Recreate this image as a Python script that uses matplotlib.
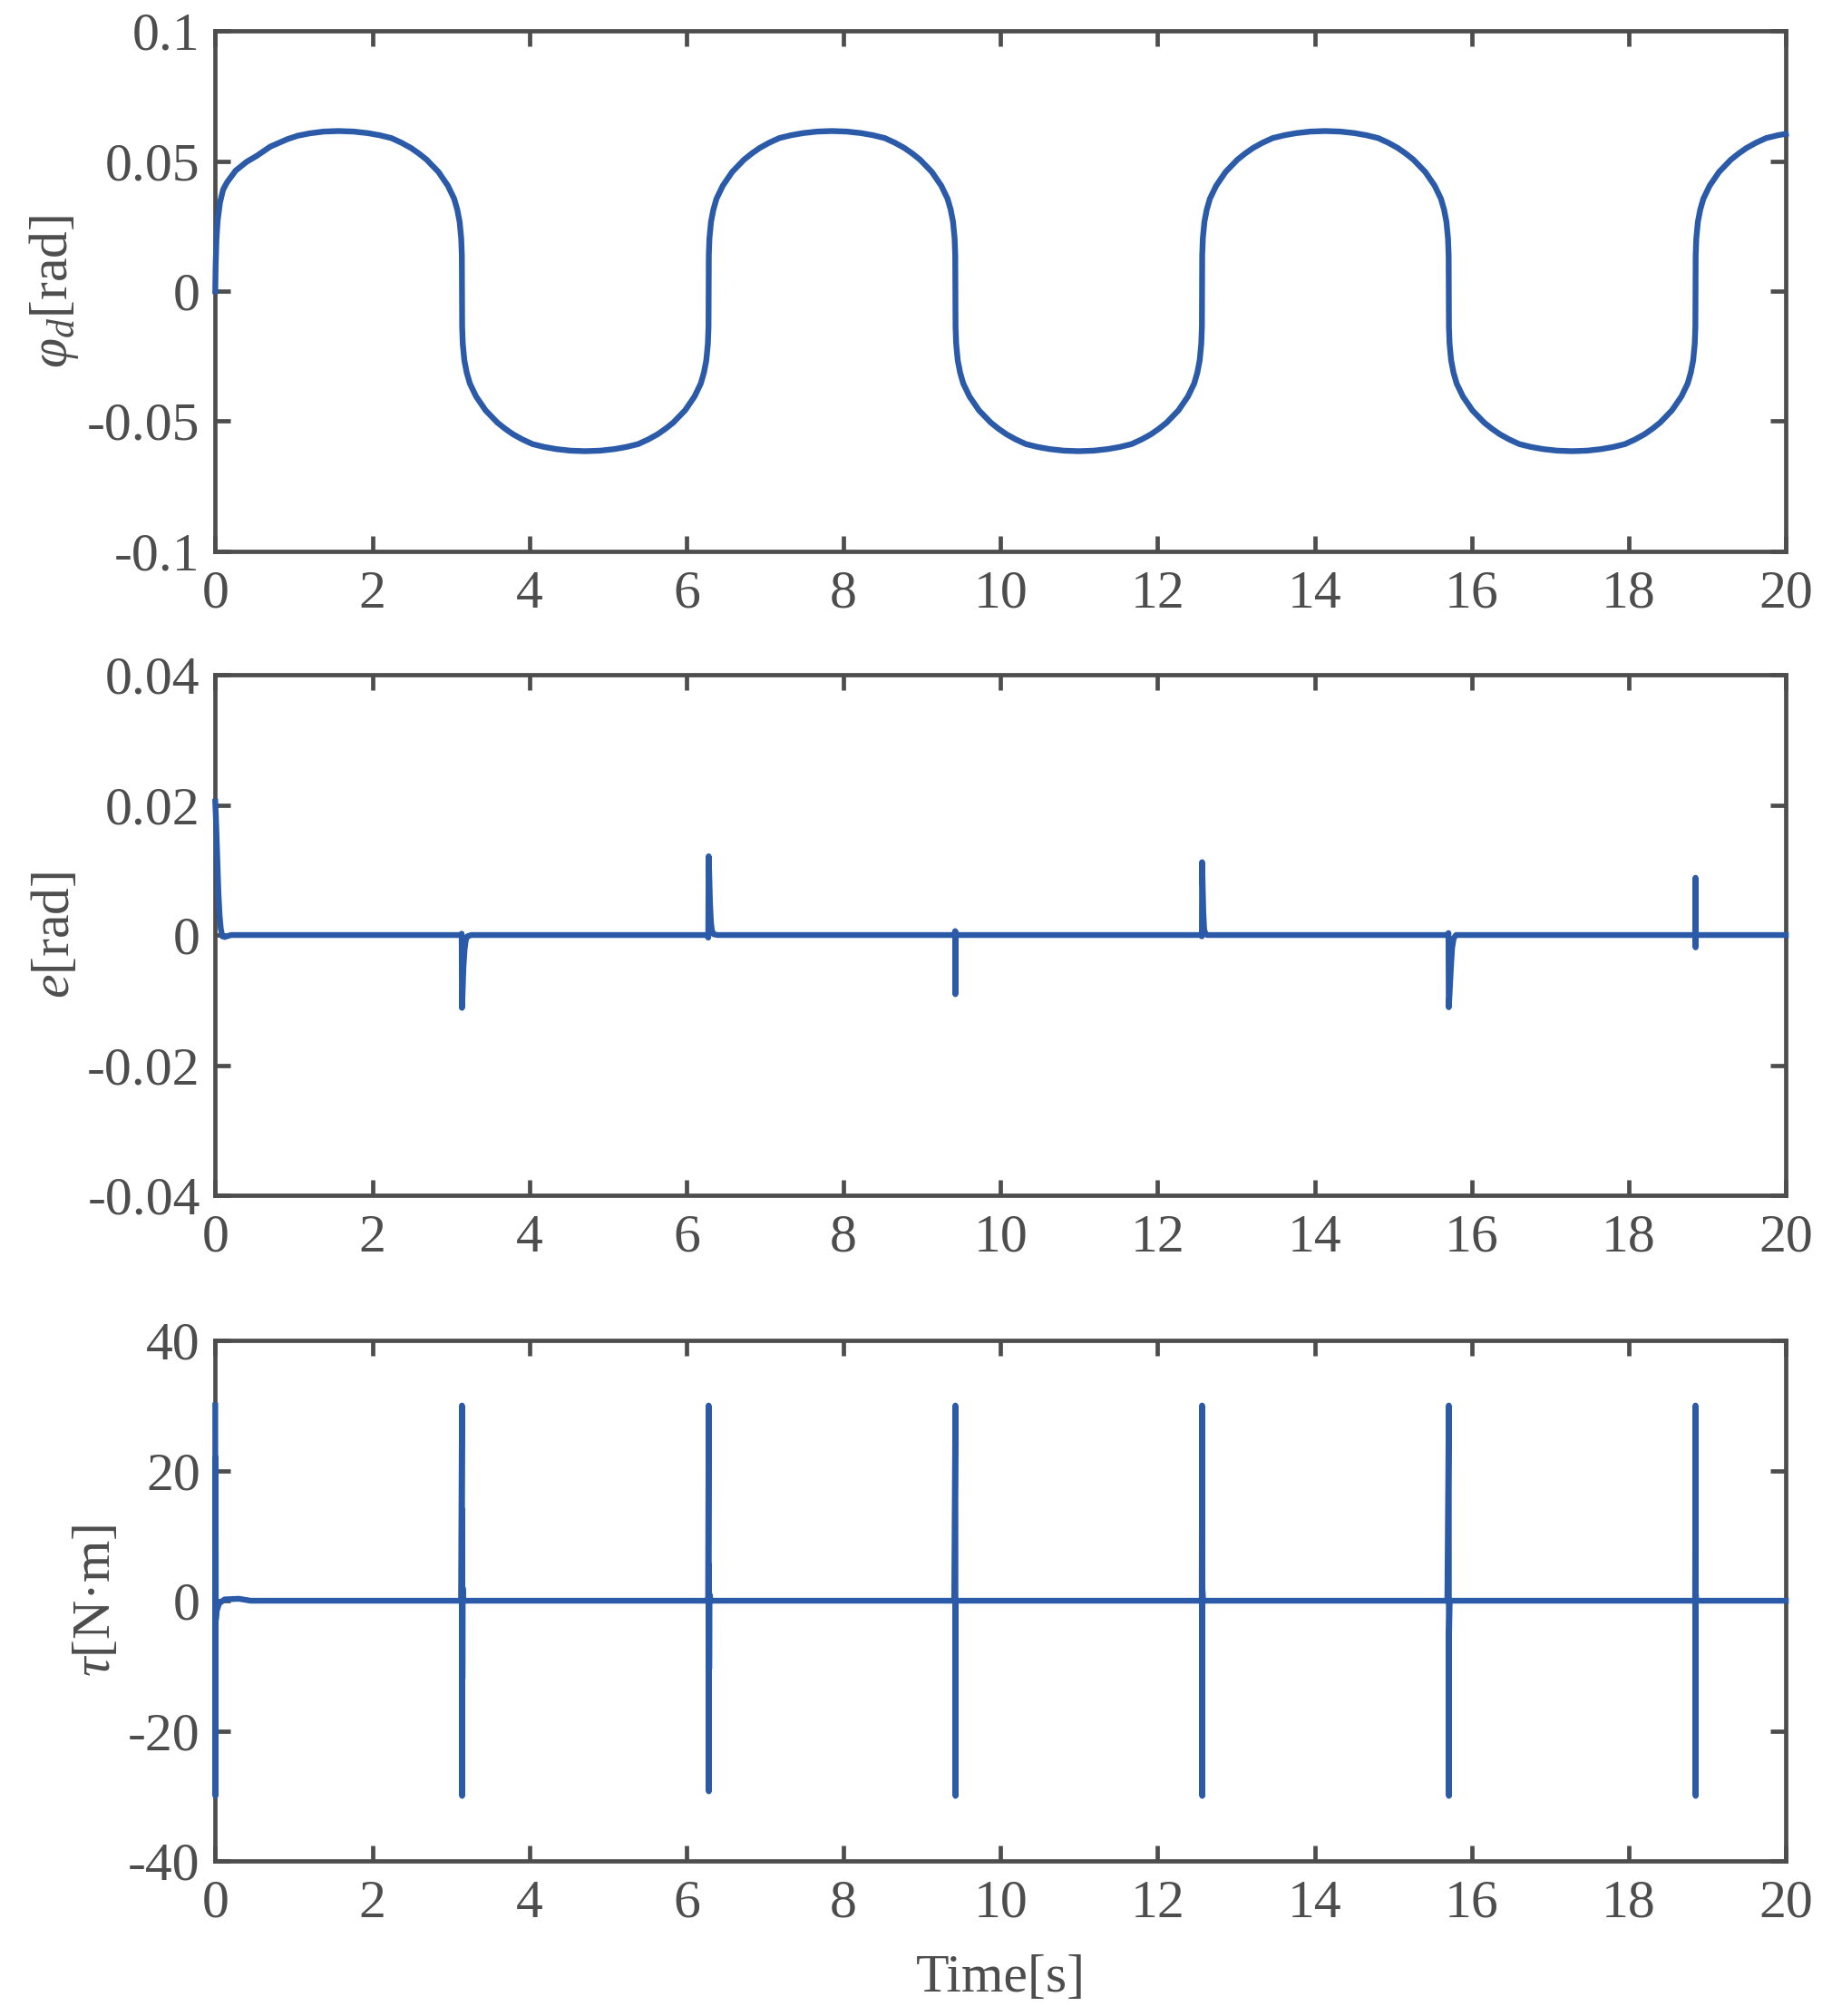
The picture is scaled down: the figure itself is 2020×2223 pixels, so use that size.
import matplotlib
matplotlib.use("Agg")
import matplotlib.pyplot as plt

# --- data ---

# desired angle phi_d [rad]
phi_t = [0, 0.005, 0.015, 0.03, 0.06, 0.1, 0.15, 0.26, 0.4, 0.53, 0.7, 0.92, 1.05, 1.2, 1.38, 1.571,
         # down through pi
         1.762, 1.942, 2.092, 2.242, 2.372, 2.492, 2.592, 2.692, 2.842, 2.962, 3.042, 3.082, 3.112, 3.132, 3.140,
         3.142,
         3.144, 3.152, 3.172, 3.202, 3.242, 3.322, 3.442, 3.592, 3.692, 3.792, 3.912, 4.042, 4.192, 4.342, 4.522,
         4.712,
         # up through 2pi
         4.903, 5.083, 5.233, 5.383, 5.513, 5.633, 5.733, 5.833, 5.983, 6.103, 6.183, 6.223, 6.253, 6.273, 6.281,
         6.283,
         6.285, 6.293, 6.313, 6.343, 6.383, 6.463, 6.583, 6.733, 6.833, 6.933, 7.053, 7.183, 7.333, 7.483, 7.663,
         7.854,
         # down through 3pi
         8.045, 8.225, 8.375, 8.525, 8.655, 8.775, 8.875, 8.975, 9.125, 9.245, 9.325, 9.365, 9.395, 9.415, 9.423,
         9.425,
         9.427, 9.435, 9.455, 9.485, 9.525, 9.605, 9.725, 9.875, 9.975, 10.075, 10.195, 10.325, 10.475, 10.625, 10.805,
         10.996,
         # up through 4pi
         11.186, 11.366, 11.516, 11.666, 11.796, 11.916, 12.016, 12.116, 12.266, 12.386, 12.466, 12.506, 12.536, 12.556, 12.564,
         12.566,
         12.568, 12.576, 12.596, 12.626, 12.666, 12.746, 12.866, 13.016, 13.116, 13.216, 13.336, 13.466, 13.616, 13.766, 13.946,
         14.137,
         # down through 5pi
         14.328, 14.508, 14.658, 14.808, 14.938, 15.058, 15.158, 15.258, 15.408, 15.528, 15.608, 15.648, 15.678, 15.698, 15.706,
         15.708,
         15.710, 15.718, 15.738, 15.768, 15.808, 15.888, 16.008, 16.158, 16.258, 16.358, 16.478, 16.608, 16.758, 16.908, 17.088,
         17.279,
         # up through 6pi to the end
         17.470, 17.650, 17.800, 17.950, 18.080, 18.200, 18.300, 18.400, 18.550, 18.670, 18.750, 18.790, 18.820, 18.840, 18.848,
         18.850,
         18.852, 18.860, 18.880, 18.910, 18.950, 19.030, 19.150, 19.300, 19.400, 19.500, 19.620, 19.750, 19.900, 20.0]
phi_v = [0, 0.010, 0.020, 0.027, 0.034, 0.039, 0.0418, 0.0463, 0.0497, 0.0520, 0.0555, 0.0584, 0.0597, 0.0606, 0.0613, 0.0615,
         0.0613, 0.0607, 0.0599, 0.0588, 0.0570, 0.0550, 0.0529, 0.0505, 0.0458, 0.0405, 0.0355, 0.0313, 0.0266, 0.0203, 0.0138,
         0,
         -0.0138, -0.0203, -0.0266, -0.0313, -0.0355, -0.0405, -0.0458, -0.0505, -0.0529, -0.0550, -0.0570, -0.0588, -0.0599, -0.0607, -0.0613,
         -0.0615,
         -0.0613, -0.0607, -0.0599, -0.0588, -0.0570, -0.0550, -0.0529, -0.0505, -0.0458, -0.0405, -0.0355, -0.0313, -0.0266, -0.0203, -0.0138,
         0,
         0.0138, 0.0203, 0.0266, 0.0313, 0.0355, 0.0405, 0.0458, 0.0505, 0.0529, 0.0550, 0.0570, 0.0588, 0.0599, 0.0607, 0.0613,
         0.0615,
         0.0613, 0.0607, 0.0599, 0.0588, 0.0570, 0.0550, 0.0529, 0.0505, 0.0458, 0.0405, 0.0355, 0.0313, 0.0266, 0.0203, 0.0138,
         0,
         -0.0138, -0.0203, -0.0266, -0.0313, -0.0355, -0.0405, -0.0458, -0.0505, -0.0529, -0.0550, -0.0570, -0.0588, -0.0599, -0.0607, -0.0613,
         -0.0615,
         -0.0613, -0.0607, -0.0599, -0.0588, -0.0570, -0.0550, -0.0529, -0.0505, -0.0458, -0.0405, -0.0355, -0.0313, -0.0266, -0.0203, -0.0138,
         0,
         0.0138, 0.0203, 0.0266, 0.0313, 0.0355, 0.0405, 0.0458, 0.0505, 0.0529, 0.0550, 0.0570, 0.0588, 0.0599, 0.0607, 0.0613,
         0.0615,
         0.0613, 0.0607, 0.0599, 0.0588, 0.0570, 0.0550, 0.0529, 0.0505, 0.0458, 0.0405, 0.0355, 0.0313, 0.0266, 0.0203, 0.0138,
         0,
         -0.0138, -0.0203, -0.0266, -0.0313, -0.0355, -0.0405, -0.0458, -0.0505, -0.0529, -0.0550, -0.0570, -0.0588, -0.0599, -0.0607, -0.0613,
         -0.0615,
         -0.0613, -0.0607, -0.0599, -0.0588, -0.0570, -0.0550, -0.0529, -0.0505, -0.0458, -0.0405, -0.0355, -0.0313, -0.0266, -0.0203, -0.0138,
         0,
         0.0138, 0.0203, 0.0266, 0.0313, 0.0355, 0.0405, 0.0458, 0.0505, 0.0529, 0.0550, 0.0570, 0.0588, 0.0599, 0.0604]

# tracking error e [rad]
err_t = [0, 0.01, 0.025, 0.04, 0.055, 0.07, 0.09, 0.12, 0.2,
         3.120, 3.138, 3.1416, 3.149, 3.160, 3.175, 3.190, 3.210, 3.26,
         6.26, 6.278, 6.2832, 6.290, 6.300, 6.312, 6.325, 6.35, 6.40,
         9.41, 9.422, 9.4248, 9.427, 9.430, 9.44, 9.46,
         12.55, 12.564, 12.5664, 12.573, 12.582, 12.592, 12.605, 12.63,
         15.69, 15.704, 15.708, 15.716, 15.735, 15.750, 15.770, 15.80,
         18.84, 18.848, 18.8496, 18.851, 18.853, 18.86, 20.0]
err_v = [0.0205, 0.0175, 0.012, 0.0065, 0.003, 0.001, -0.0002, -0.0003, 0,
         0, 0.0002, -0.0112, -0.0090, -0.0050, -0.0022, -0.0008, -0.0002, 0,
         0, -0.0004, 0.0121, 0.0095, 0.0050, 0.0020, 0.0006, 0.0001, 0,
         0, 0.0006, -0.0091, -0.0030, 0.0004, 0.0001, 0,
         0, -0.0002, 0.0112, 0.0080, 0.0035, 0.0010, 0.0002, 0,
         0, 0.0003, -0.0111, -0.0095, -0.0050, -0.0020, -0.0005, 0,
         0, 0.0002, 0.0088, -0.0019, 0.0004, 0, 0]

# control torque tau [N.m]
tau_t = [0, 0.002, 0.004, 0.007, 0.02, 0.05, 0.12, 0.3, 0.45,
         3.130, 3.1416, 3.1436, 3.1456, 3.148, 3.151, 3.16,
         6.260, 6.276, 6.2832, 6.2852, 6.2872, 6.290, 6.294, 6.31,
         9.410, 9.4248, 9.4268, 9.4288, 9.44,
         12.550, 12.562, 12.5664, 12.5684, 12.5704, 12.58,
         15.690, 15.708, 15.710, 15.712, 15.72,
         18.835, 18.845, 18.8496, 18.8516, 18.8536, 18.86, 20.0]
tau_v = [30, -30, 22, -3, -1.5, -0.4, 0.2, 0.3, 0,
         0, 30, -30, 14, -12, 2, 0,
         0, 0.3, 30, -29.3, 5.5, -10.5, 1, 0,
         0, 30, -30, 0, 0,
         0, 0.2, 30, -30, 2, 0,
         0, 30, -30, -5, 0,
         0, 0.2, 30, -30, 1, 0, 0]

x_ticks = [0, 2, 4, 6, 8, 10, 12, 14, 16, 18, 20]
phi_ticks = [-0.1, -0.05, 0, 0.05, 0.1]
phi_labels = ["-0.1", "-0.05", "0", "0.05", "0.1"]
err_ticks = [-0.04, -0.02, 0, 0.02, 0.04]
err_labels = ["-0.04", "-0.02", "0", "0.02", "0.04"]
tau_ticks = [-40, -20, 0, 20, 40]
tau_labels = ["-40", "-20", "0", "20", "40"]

# --- style ---
line_col = "#2a5aa8"
ax_col = "#4d4d4d"
plt.rcParams["font.family"] = ["Liberation Serif", "DejaVu Serif"]
plt.rcParams["mathtext.fontset"] = "custom"
plt.rcParams["mathtext.rm"] = "Liberation Serif"
plt.rcParams["mathtext.it"] = "Liberation Serif:italic"
plt.rcParams["axes.unicode_minus"] = False
fs = 43

fig = plt.figure(figsize=(20.2, 22.23), dpi=100)
left, width, height = 0.1175, 0.8573, 0.2582
bottoms = [0.7265, 0.4071, 0.0769]

panels = [
    (phi_t, phi_v, phi_ticks, phi_labels, (-0.1, 0.1), r"$\varphi_d$[rad]"),
    (err_t, err_v, err_ticks, err_labels, (-0.04, 0.04), r"$e$[rad]"),
    (tau_t, tau_v, tau_ticks, tau_labels, (-40, 40), r"$\tau$[N·m]"),
]

for i, (t, v, yt, yl, lim, lab) in enumerate(panels):
    ax = fig.add_axes([left, bottoms[i], width, height])
    ax.plot(t, v, color=line_col, lw=4.6, zorder=3, clip_on=False)
    ax.set_xlim(0, 20)
    ax.set_ylim(*lim)
    ax.set_xticks(x_ticks)
    ax.set_xticklabels([str(x) for x in x_ticks])
    ax.set_yticks(yt)
    ax.set_yticklabels(yl)
    ax.tick_params(direction="in", length=12, width=3.4, colors=ax_col,
                   labelsize=fs, top=True, right=True)
    ax.tick_params(axis="x", pad=15)
    ax.tick_params(axis="y", pad=12)
    for s in ax.spines.values():
        s.set_color(ax_col)
        s.set_linewidth(3.4)
    ax.set_ylabel(lab, fontsize=fs, color=ax_col, labelpad=5)
    if i == 2:
        ax.set_xlabel("Time[s]", fontsize=fs, color=ax_col, labelpad=20)

fig.savefig("out.png", dpi=100)
